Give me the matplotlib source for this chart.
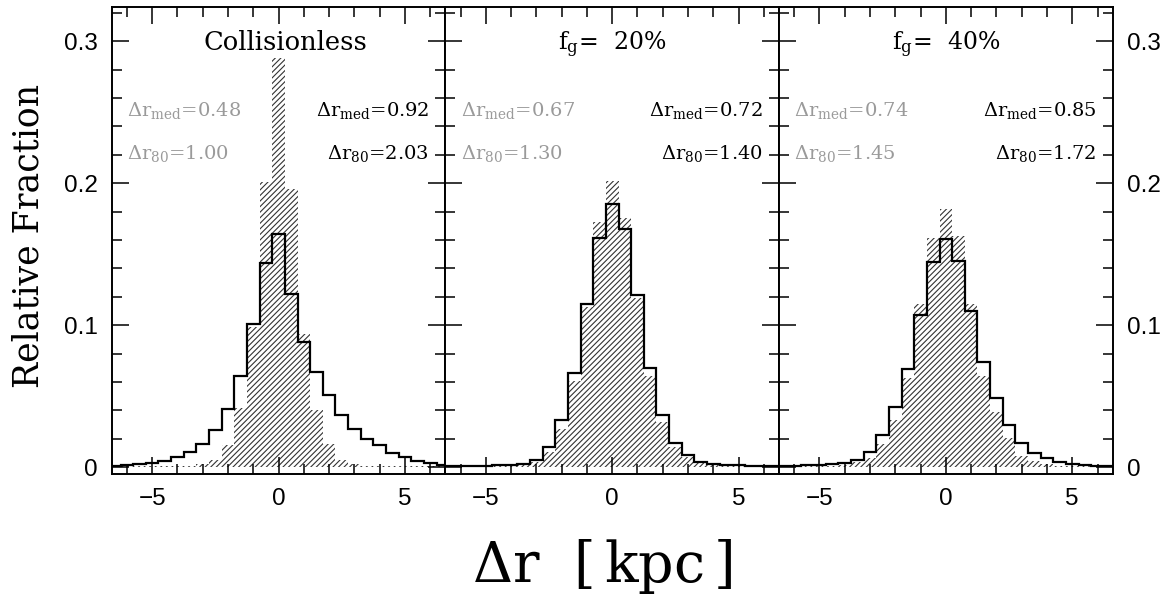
import numpy as np
import matplotlib
matplotlib.use("Agg")
import matplotlib.pyplot as plt
from matplotlib.ticker import MultipleLocator, FixedLocator, FixedFormatter

plt.rcParams['font.family'] = ['DejaVu Serif']
plt.rcParams['mathtext.fontset'] = 'dejavuserif'
plt.rcParams['hatch.linewidth'] = 0.8
plt.rcParams['hatch.color'] = '#333333'

# bin centres (kpc), bin width 0.5
centers = np.arange(-6.5, 6.51, 0.5)
edges = np.append(centers - 0.25, centers[-1] + 0.25)

titles = ['Collisionless', r'f$_{\rm g}$=  20%', r'f$_{\rm g}$=  40%']

# hatched (grey) histograms
hatch_coll = [0.0005, 0.0005, 0.0008, 0.001, 0.001, 0.001, 0.001, 0.002, 0.005, 0.0155, 0.0416,
              0.0985, 0.201, 0.288, 0.196, 0.094, 0.040, 0.0165, 0.005, 0.002, 0.001, 0.001,
              0.001, 0.001, 0.001, 0.0008, 0.0005]
hatch_20 = [0.0008, 0.0008, 0.0008, 0.0008, 0.0008, 0.0008, 0.002, 0.0035, 0.0107, 0.027, 0.061,
            0.113, 0.173, 0.2018, 0.1756, 0.119, 0.0645, 0.032, 0.014, 0.007, 0.0035, 0.0015,
            0.0008, 0.0008, 0.0008, 0.0008, 0.0008]
hatch_40 = [0.0008, 0.0008, 0.0008, 0.0008, 0.0008, 0.0015, 0.0035, 0.0066, 0.0165, 0.033, 0.063,
            0.1148, 0.1616, 0.182, 0.163, 0.1148, 0.0645, 0.039, 0.0205, 0.008, 0.004, 0.002,
            0.0008, 0.0008, 0.0008, 0.0008, 0.0008]

# black outline histograms
line_coll = [0.001, 0.0015, 0.002, 0.003, 0.004, 0.0072, 0.0107, 0.0165, 0.026, 0.041, 0.064,
             0.101, 0.144, 0.164, 0.122, 0.088, 0.067, 0.051, 0.037, 0.027, 0.020, 0.0155,
             0.010, 0.007, 0.004, 0.003, 0.0015]
line_20 = [0.001, 0.001, 0.001, 0.001, 0.0012, 0.0015, 0.0025, 0.0053, 0.0142, 0.033, 0.066,
           0.1148, 0.1616, 0.1857, 0.1675, 0.121, 0.070, 0.037, 0.017, 0.0088, 0.0035, 0.002,
           0.0015, 0.0012, 0.001, 0.001, 0.001]
line_40 = [0.001, 0.001, 0.0012, 0.0015, 0.002, 0.003, 0.0053, 0.011, 0.0228, 0.042, 0.069,
           0.107, 0.1445, 0.161, 0.1455, 0.1097, 0.074, 0.0486, 0.030, 0.017, 0.010, 0.0063,
           0.0035, 0.0025, 0.0015, 0.001, 0.001]

grey_med = ['0.48', '0.67', '0.74']
grey_80 = ['1.00', '1.30', '1.45']
black_med = ['0.92', '0.72', '0.85']
black_80 = ['2.03', '1.40', '1.72']

hatched = [hatch_coll, hatch_20, hatch_40]
lines = [line_coll, line_20, line_40]

fig, axes = plt.subplots(1, 3, figsize=(11.7, 5.98), dpi=100, sharey=True)
fig.subplots_adjust(left=0.0955, right=0.951, top=0.988, bottom=0.207, wspace=0)

for i, ax in enumerate(axes):
    ax.bar(centers, hatched[i], width=0.5, facecolor='none', edgecolor='#333333',
           hatch='//////', linewidth=0)
    ax.stairs(lines[i], edges, color='black', linewidth=1.6)

    ax.set_xlim(-6.6, 6.6)
    ax.set_ylim(-0.005, 0.324)

    ax.xaxis.set_major_locator(FixedLocator([-5, 0, 5]))
    ax.xaxis.set_minor_locator(MultipleLocator(1))
    ax.xaxis.set_major_formatter(FixedFormatter(['\u22125', '0', '5']))
    ax.yaxis.set_major_locator(FixedLocator([0, 0.1, 0.2, 0.3]))
    ax.yaxis.set_minor_locator(MultipleLocator(0.02))
    ax.yaxis.set_major_formatter(FixedFormatter(['0', '0.1', '0.2', '0.3']))

    ax.tick_params(which='both', direction='in', top=True, right=True, width=1.1)
    ax.tick_params(which='major', length=12, pad=10)
    ax.tick_params(which='minor', length=7)
    ax.tick_params(axis='y', which='both', labelleft=(i == 0), labelright=(i == 2))
    for lab in ax.get_xticklabels() + ax.get_yticklabels():
        lab.set_family('Liberation Sans')
        lab.set_fontsize(17.5)
    for s in ax.spines.values():
        s.set_linewidth(1.4)

    if i == 0:
        ax.text(0.28, 0.2937, titles[i], ha='center', va='baseline', fontsize=18.5)
    else:
        ax.text(0.0, 0.2937, titles[i], ha='center', va='baseline', fontsize=17)

    ax.text(-6.0, 0.247, r'$\Delta$r$_{\rm med}$=' + grey_med[i], color='#9a9a9a',
            ha='left', va='baseline', fontsize=14)
    ax.text(-6.0, 0.2174, r'$\Delta$r$_{80}$=' + grey_80[i], color='#9a9a9a',
            ha='left', va='baseline', fontsize=14)
    ax.text(5.95, 0.247, r'$\Delta$r$_{\rm med}$=' + black_med[i], color='black',
            ha='right', va='baseline', fontsize=14)
    ax.text(5.95, 0.2174, r'$\Delta$r$_{80}$=' + black_80[i], color='black',
            ha='right', va='baseline', fontsize=14)

fig.text(0.024, 0.605, 'Relative Fraction', rotation=90, ha='center', va='center', fontsize=25)
fig.text(0.515, 0.052, r'$\Delta$r  $\left[\,\mathrm{kpc}\,\right]$', ha='center', va='center',
         fontsize=40)

fig.savefig('out.png', dpi=100)
